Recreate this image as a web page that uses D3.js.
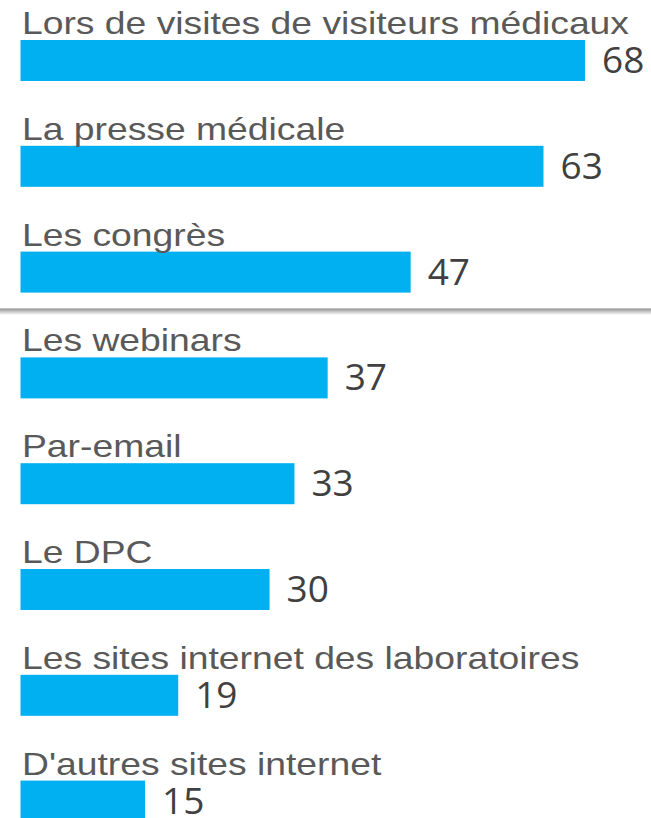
<!DOCTYPE html>
<html>
<head>
<meta charset="utf-8">
<script src="https://cdn.jsdelivr.net/npm/d3@7"></script>
<style>
  html, body { margin: 0; padding: 0; background: #fff; overflow: hidden; }
</style>
</head>
<body>
<div id="chart"></div>
<script>
// data
const categories = [
  "Lors de visites de visiteurs médicaux",
  "La presse médicale",
  "Les congrès",
  "Les webinars",
  "Par-email",
  "Le DPC",
  "Les sites internet des laboratoires",
  "D'autres sites internet"
];
const values = [68, 63, 47, 37, 33, 30, 19, 15];

const width = 651, height = 818;
const barH = 41, step = 105.8;

const svg = d3.select("#chart").append("svg")
  .attr("width", width)
  .attr("height", height);

// shadow for the separator line
const defs = svg.append("defs");
const grad = defs.append("linearGradient")
  .attr("id", "shade").attr("x1", 0).attr("x2", 0).attr("y1", 0).attr("y2", 1);
grad.append("stop").attr("offset", "0%").attr("stop-color", "#9a9a9a");
grad.append("stop").attr("offset", "100%").attr("stop-color", "#ffffff");

const x = d3.scaleLinear()
  .domain([0, 68])
  .range([20.5, 585]);

const y = d3.scaleBand()
  .domain(categories)
  .range([40, 40 + 7 * step + barH])
  .paddingInner((step - barH) / step)
  .paddingOuter(0);

const rows = svg.selectAll("g.row")
  .data(categories)
  .join("g")
    .attr("class", "row");

rows.append("rect")
  .attr("x", x(0))
  .attr("y", d => y(d))
  .attr("width", (d, i) => x(values[i]) - x(0))
  .attr("height", y.bandwidth())
  .attr("fill", "#00b0f0");

// labels are a bit wider than plain Arial in the original
rows.append("text")
  .attr("transform", d => `translate(22,${y(d) - 6}) scale(1.165,1)`)
  .attr("font-family", "'Liberation Sans', Arial, sans-serif")
  .attr("font-size", 32)
  .attr("fill", "#595959")
  .text(d => d);

rows.append("text")
  .attr("x", (d, i) => x(values[i]) + 17)
  .attr("y", d => y(d) + 33)
  .attr("font-family", "'Open Sans', Calibri, sans-serif")
  .attr("font-size", 37)
  .attr("fill", "#404040")
  .text((d, i) => values[i]);

// grey separator between the 3rd and 4th rows
svg.append("rect")
  .attr("x", 0).attr("y", 309)
  .attr("width", width).attr("height", 6)
  .attr("fill", "url(#shade)");
svg.append("line")
  .attr("x1", 0).attr("x2", width)
  .attr("y1", 308.5).attr("y2", 308.5)
  .attr("stroke", "#c0c0c0")
  .attr("stroke-width", 1);
</script>
</body>
</html>
